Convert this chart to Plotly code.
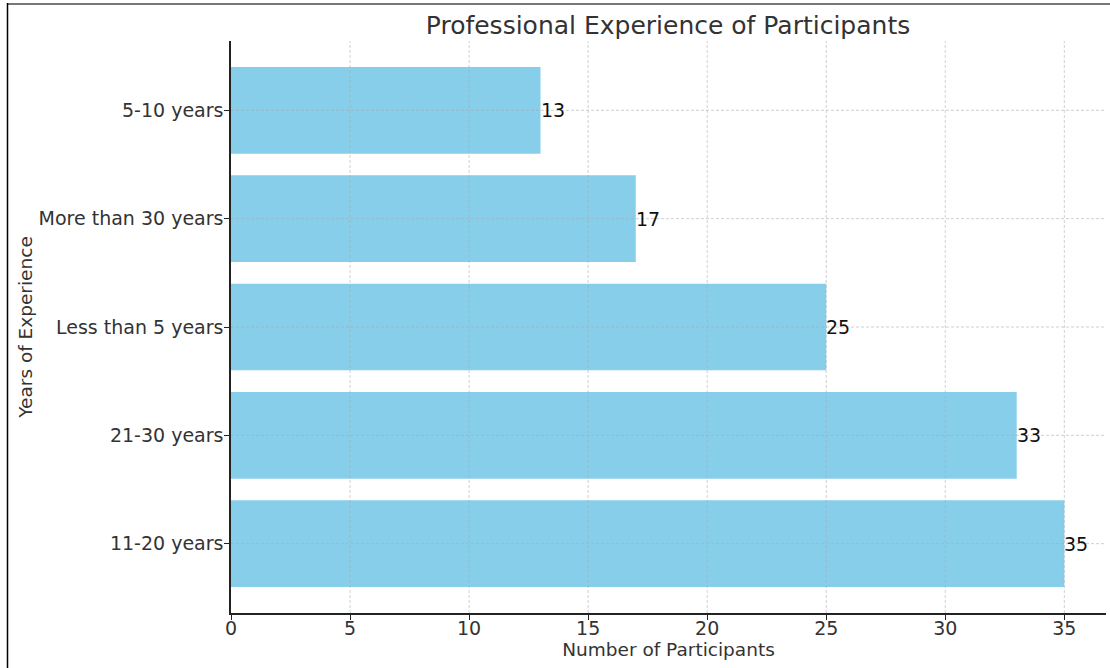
import plotly.graph_objects as go

# Participant counts by years of professional experience
categories = ["11-20 years", "21-30 years", "Less than 5 years", "More than 30 years", "5-10 years"]
participants = [35, 33, 25, 17, 13]
x_ticks = [0, 5, 10, 15, 20, 25, 30, 35]

W, H = 1110, 668
L, R, T, B = 231, 4, 41, 55
pw, ph = W - L - R, H - T - B
X_MAX = 36.75

FONT = "DejaVu Sans"
TEXT = "#333333"
GRID = "rgba(170,170,170,0.55)"
GRID_DASH = "3px,2px"

fig = go.Figure()
fig.add_trace(go.Bar(
    y=categories,
    x=participants,
    orientation="h",
    width=0.8,
    marker=dict(color="#87CEEB", line=dict(width=0)),
    hoverinfo="skip",
))

# dashed grid drawn over the bars
for xv in x_ticks[1:]:
    fig.add_shape(type="line", xref="x", yref="paper", x0=xv, x1=xv, y0=0, y1=1,
                  layer="above", line=dict(color=GRID, width=1, dash=GRID_DASH))
for cat in categories:
    fig.add_shape(type="line", xref="paper", yref="y", x0=0, x1=1, y0=cat, y1=cat,
                  layer="above", line=dict(color=GRID, width=1, dash=GRID_DASH))

# value labels at the end of each bar
for cat, val in zip(categories, participants):
    fig.add_annotation(
        x=val, y=cat, text=str(val), showarrow=False,
        xanchor="left", yanchor="middle", xshift=-2,
        font=dict(family=FONT, size=19, color="#111111"),
    )

# page frame along the top and left edges
px = lambda v: (v - L) / pw
py = lambda v: (H - B - v) / ph
fig.add_shape(type="line", xref="paper", yref="paper",
              x0=px(7), x1=px(W + 5), y0=py(4), y1=py(4),
              line=dict(color="#777777", width=2))
fig.add_shape(type="line", xref="paper", yref="paper",
              x0=px(7.5), x1=px(7.5), y0=py(3), y1=py(H + 5),
              line=dict(color="#000000", width=1.5))

fig.update_layout(
    width=W, height=H,
    margin=dict(l=L, r=R, t=T, b=B),
    paper_bgcolor="white", plot_bgcolor="white",
    showlegend=False,
    font=dict(family=FONT, color=TEXT),
    title=dict(text="Professional Experience of Participants",
               x=668 / W, xanchor="center", y=1 - 25 / H, yanchor="middle",
               font=dict(family=FONT, size=25, color=TEXT)),
    xaxis=dict(
        range=[0, X_MAX], tickvals=x_ticks,
        showgrid=False,
        showline=True, linecolor="#222222", linewidth=1.5,
        ticks="outside", ticklen=5, tickcolor="#222222",
        ticklabelstandoff=-8,
        tickfont=dict(family=FONT, size=19, color=TEXT),
        title=dict(text="Number of Participants", standoff=2,
                   font=dict(family=FONT, size=18.5, color=TEXT)),
        zeroline=False, layer="above traces", fixedrange=True,
    ),
    yaxis=dict(
        range=[-0.64, 4.64], type="category",
        categoryorder="array", categoryarray=categories,
        showgrid=False,
        showline=True, linecolor="#222222", linewidth=1.5,
        ticks="outside", ticklen=5, tickcolor="#222222",
        ticklabelstandoff=-3,
        tickfont=dict(family=FONT, size=19, color=TEXT),
        title=dict(text="Years of Experience", standoff=1,
                   font=dict(family=FONT, size=18.5, color=TEXT)),
        zeroline=False, layer="above traces", fixedrange=True,
    ),
)

fig.write_html("out.html")
